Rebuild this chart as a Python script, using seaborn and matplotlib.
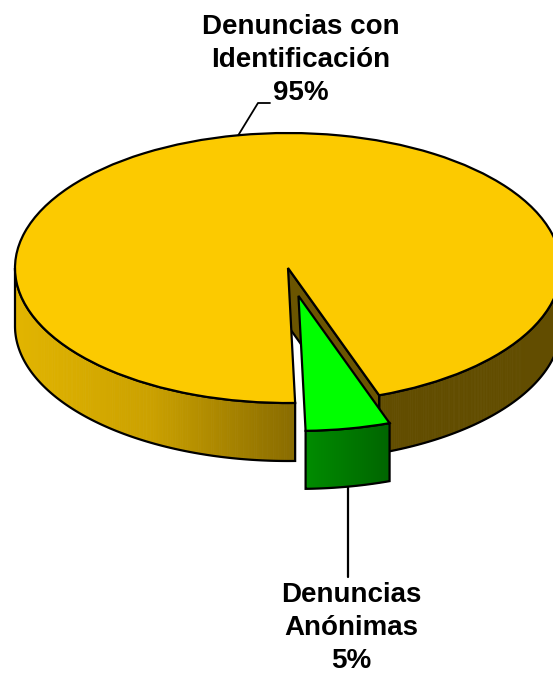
import numpy as np
import seaborn as sns
import matplotlib.pyplot as plt
from matplotlib.patches import Polygon

# data
labels = ['Denuncias\nAnónimas', 'Denuncias con\nIdentificación']
shares = [5, 95]
top_colors = ['#00FF00', '#FCCA00']

sns.set_style('white')
plt.rcParams['font.family'] = ['Liberation Sans', 'DejaVu Sans']
plt.rcParams['text.color'] = 'black'

W, H = 553, 675
CX, CY, RX, RY = 288, 268, 273, 135   # pixel layout of the pie top
DEPTH = 58 / RY


def px(x, y):
    # pixel position -> data coords
    return (x - CX) / RX, (CY - y) / RY


def yellow_shade(x):
    xs = [-1, -0.5, 0, 0.3, 1]
    cs = np.array([(226, 181, 0), (203, 161, 0), (140, 110, 0), (98, 77, 0), (98, 77, 0)]) / 255
    return [np.interp(x, xs, cs[:, k]) for k in range(3)]


def green_shade(x):
    xs = [0.05, 0.38]
    cs = np.array([(0, 142, 0), (0, 100, 0)]) / 255
    return [np.interp(x, xs, cs[:, k]) for k in range(3)]


shades = [green_shade, yellow_shade]
side_faces = [(0, 0.42, 0), (0.42, 0.335, 0)]

fig = plt.figure(figsize=(W / 100, H / 100), dpi=100)
ax = fig.add_axes([0, 0, 1, 1])
wedges, _ = ax.pie(shares, colors=top_colors, startangle=-88.5, counterclock=True,
                   explode=[0.21, 0],
                   wedgeprops=dict(edgecolor='black', linewidth=1.6))
ax.set_aspect('auto')
ax.set_xlim(px(0, 0)[0], px(W, 0)[0])
ax.set_ylim(px(0, H)[1], px(0, 0)[1])
ax.axis('off')


def front_runs(t1, t2):
    runs = []
    for a, b in [(-180, 0), (180, 360)]:
        lo, hi = max(t1, a), min(t2, b)
        if hi > lo:
            runs.append((lo, hi))
    return runs


for i, w in enumerate(wedges):
    cx, cy = w.center
    r = w.r
    base_z = 1 if i == 1 else 5
    w.set_zorder(base_z + 2)
    # outer walls
    for lo, hi in front_runs(w.theta1, w.theta2):
        t = np.radians(np.linspace(lo, hi, 160))
        x = cx + r * np.cos(t)
        y = cy + r * np.sin(t)
        for k in range(len(t) - 1):
            quad = [(x[k], y[k]), (x[k + 1], y[k + 1]),
                    (x[k + 1], y[k + 1] - DEPTH), (x[k], y[k] - DEPTH)]
            c = shades[i]((x[k] + x[k + 1]) / 2)
            ax.add_patch(Polygon(quad, closed=True, facecolor=c, edgecolor=c,
                                 linewidth=0.6, zorder=base_z))
        outline = list(zip(x, y)) + list(zip(x[::-1], y[::-1] - DEPTH))
        ax.add_patch(Polygon(outline, closed=True, facecolor='none',
                             edgecolor='black', linewidth=1.6, zorder=base_z + 0.5))
    # radial cut faces turned to the viewer
    for th, vis in [(w.theta1, np.cos(np.radians(w.theta1)) > 0.03),
                    (w.theta2, np.cos(np.radians(w.theta2)) < -0.03)]:
        if vis:
            ex = cx + r * np.cos(np.radians(th))
            ey = cy + r * np.sin(np.radians(th))
            face = [(cx, cy), (ex, ey), (ex, ey - DEPTH), (cx, cy - DEPTH)]
            ax.add_patch(Polygon(face, closed=True, facecolor=side_faces[i],
                                 edgecolor='black', linewidth=1.6, zorder=base_z + 1))

# labels and leader lines
font = dict(fontsize=20, fontweight='bold', ha='center', va='top', linespacing=1.36,
            color='black', transform=ax.transAxes)

yw = wedges[1]
mid = np.radians((yw.theta1 + yw.theta2) / 2)
rim = (yw.center[0] + yw.r * np.cos(mid), yw.center[1] + yw.r * np.sin(mid))
e1, e2 = px(258, 103), px(270, 103)
ax.plot([rim[0], e1[0], e2[0]], [rim[1], e1[1], e2[1]], color='black', lw=1.3, zorder=10)
ax.text(301 / W, 1 - 14 / H, f'{labels[1]}\n{shares[1]}%', **font)

gw = wedges[0]
mid = np.radians((gw.theta1 + gw.theta2) / 2)
gx = gw.center[0] + gw.r * np.cos(mid)
gy = gw.center[1] + gw.r * np.sin(mid) - DEPTH
ax.plot([gx, gx], [gy, px(0, 577)[1]], color='black', lw=1.6, zorder=10)
ax.text(351 / W, 1 - 582 / H, f'{labels[0]}\n{shares[0]}%', **font)

fig.savefig('out.png', dpi=100)
